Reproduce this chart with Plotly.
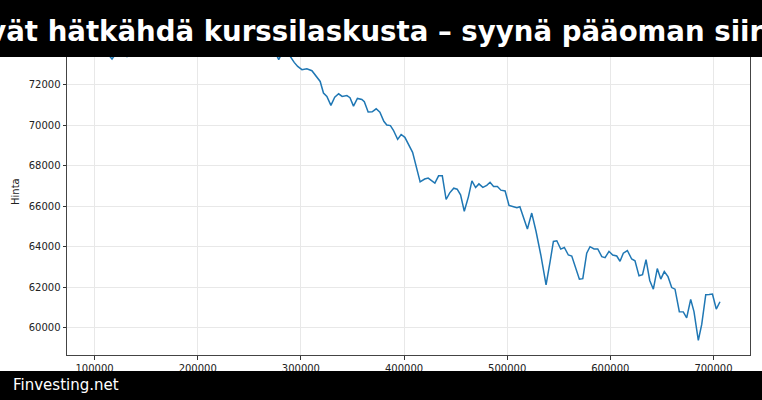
import plotly.graph_objects as go

# ---- data ----
x_values = [
    103400, 107000, 110400, 113800, 116900, 120100, 123900, 127800, 131400, 134600,
    139400, 146200, 154000, 161700, 169500, 177200, 185000, 192700, 200500, 208200,
    216000, 223700, 231500, 239200, 247000, 254700, 262500, 270300, 275100, 278500,
    281900, 285800, 289600, 293500, 296900, 301000, 305800, 310700, 315500, 318700,
    321900, 325200, 329100, 332800, 336600, 340000, 344600, 347600, 351000, 354800,
    359100, 361500, 365200, 369100, 373000, 376600, 380400, 383300, 386800, 389700,
    393800, 397200, 400800, 404700, 408300, 415600, 420000, 423400, 426700, 429900,
    433500, 437100, 440800, 444300, 448200, 451500, 454800, 458400, 462400, 465800,
    469400, 472600, 476400, 480200, 483400, 486800, 490500, 493900, 498000, 501800,
    506200, 509400, 512300, 515700, 519600, 523800, 528000, 532600, 537700, 541600,
    544800, 548100, 551900, 555400, 559300, 562600, 565800, 570000, 573300, 577100,
    580300, 584200, 587800, 591700, 594900, 598700, 602300, 606200, 609400, 612600,
    616500, 620700, 623900, 627800, 631200, 634600, 638200, 641700, 645500, 648900,
    652300, 655900, 659500, 662700, 666900, 670700, 674000, 677900, 681100, 685300,
    688600, 692500, 695800, 699000, 702700, 706300,
]
price_values = [
    73700, 73600, 73500, 73450, 73270, 73500, 73550, 73450, 73390, 73600,
    73750, 73800, 73900, 73850, 73950, 74050, 73950, 74000, 73900, 73950,
    73850, 73900, 73800, 73850, 73750, 73800, 73700, 73650, 73600, 73240,
    73600, 73550, 73400, 73100, 72900, 72740, 72790, 72690, 72360, 72160,
    71590, 71420, 70980, 71380, 71550, 71420, 71460, 71360, 70940, 71320,
    71270, 71160, 70650, 70660, 70810, 70640, 70190, 70010, 69980, 69750,
    69300, 69540, 69400, 68980, 68660, 67200, 67340, 67390, 67250, 67140,
    67500, 67500, 66330, 66660, 66890, 66840, 66560, 65750, 66460, 67250,
    66920, 67100, 66930, 67030, 67180, 66970, 66970, 66790, 66750, 66040,
    65970, 65920, 65970, 65470, 64870, 65660, 64750, 63590, 62110, 63260,
    64260, 64290, 63880, 63960, 63590, 63540, 63080, 62390, 62420, 63680,
    64000, 63890, 63890, 63510, 63460, 63770, 63590, 63540, 63280, 63680,
    63810, 63390, 63300, 62560, 62620, 63360, 62330, 61900, 62920, 62400,
    62770, 62520, 61980, 61900, 60790, 60780, 60480, 61400, 60790, 59370,
    60160, 61630, 61640, 61660, 60920, 61280,
]
x_tick_values = [100000, 200000, 300000, 400000, 500000, 600000, 700000]
y_tick_values = [60000, 62000, 64000, 66000, 68000, 70000, 72000]
title_text = "Sijoittajat eivät hätkähdä kurssilaskusta – syynä pääoman siirtyminen"
y_label = "Hinta"
footer_text = "Finvesting.net"

# ---- layout geometry (pixels) ----
W, H = 762, 400
ML, MR, MT, MB = 67, 12, 28, 45
PW, PH = W - ML - MR, H - MT - MB


def px_x(px):
    return (px - ML) / PW


def px_y(py):
    return (H - MB - py) / PH


FONT = "DejaVu Sans"

fig = go.Figure()
fig.add_trace(go.Scatter(
    x=x_values, y=price_values, mode="lines",
    line=dict(color="#1f77b4", width=1.5),
    showlegend=False, hoverinfo="skip",
))

axis_common = dict(
    showline=True, mirror=True, linecolor="#444444", linewidth=1,
    ticks="outside", ticklen=3.5, tickwidth=0.8, tickcolor="#333333",
    showgrid=True, gridcolor="#e8e8e8", gridwidth=1,
    zeroline=False,
    tickfont=dict(family=FONT, size=10, color="#222222"),
)

fig.update_xaxes(
    range=[73250, 735400], tickvals=x_tick_values,
    ticktext=[str(v) for v in x_tick_values], **axis_common,
)
fig.update_yaxes(
    range=[58650, 74800], tickvals=y_tick_values,
    ticktext=[str(v) for v in y_tick_values], **axis_common,
)

shapes = [
    dict(type="rect", xref="paper", yref="paper", layer="above",
         x0=px_x(-20), x1=px_x(W + 20), y0=px_y(57), y1=px_y(-20),
         fillcolor="black", line=dict(width=0)),
    dict(type="rect", xref="paper", yref="paper", layer="above",
         x0=px_x(-20), x1=px_x(W + 20), y0=px_y(H + 20), y1=px_y(371),
         fillcolor="black", line=dict(width=0)),
]

annotations = [
    dict(text=title_text, xref="paper", yref="paper",
         x=px_x(-205), y=px_y(32), xanchor="left", yanchor="middle",
         showarrow=False,
         font=dict(family=FONT, size=27.6, color="white", weight="bold")),
    dict(text=footer_text, xref="paper", yref="paper",
         x=px_x(11), y=px_y(385), xanchor="left", yanchor="middle",
         showarrow=False,
         font=dict(family=FONT, size=15, color="white")),
    dict(text=y_label, xref="paper", yref="paper",
         x=px_x(16), y=px_y(192), xanchor="center", yanchor="middle",
         textangle=-90, showarrow=False,
         font=dict(family=FONT, size=10, color="#222222")),
]

fig.update_layout(
    width=W, height=H,
    margin=dict(l=ML, r=MR, t=MT, b=MB, pad=0),
    paper_bgcolor="white", plot_bgcolor="white",
    shapes=shapes, annotations=annotations,
    font=dict(family=FONT),
)

fig.write_html(
    "out.html",
    config={"displayModeBar": False},
    post_script="document.body.style.margin='0';document.body.style.overflow='hidden';",
)
